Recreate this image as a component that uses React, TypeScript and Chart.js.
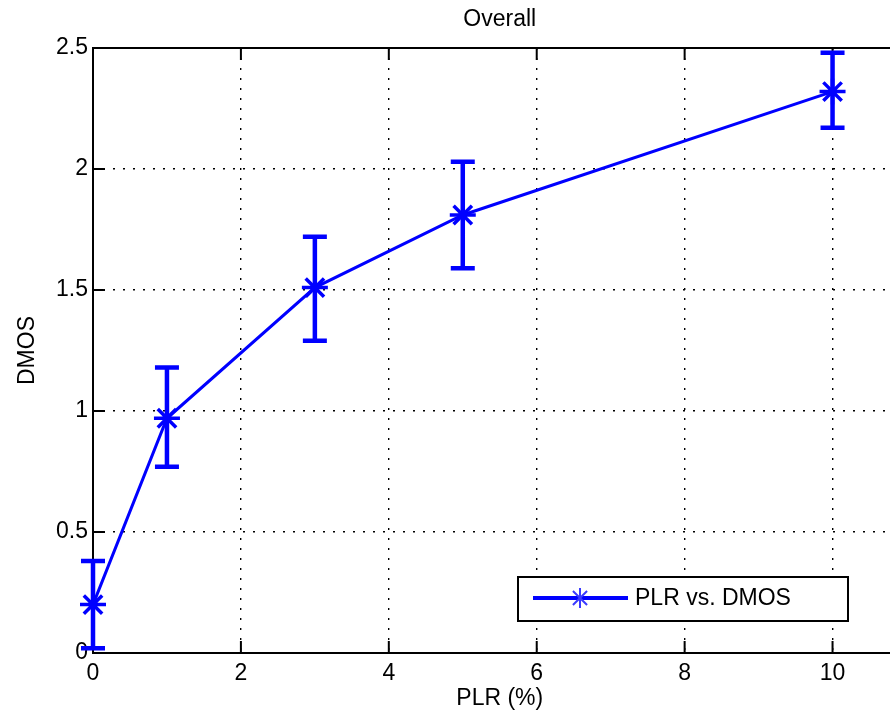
import React, { useEffect, useRef } from 'react';
import { Chart, registerables } from 'chart.js';

Chart.register(...registerables);

const plr = [0, 1, 3, 5, 10];
const dmos = [0.2, 0.97, 1.51, 1.81, 2.32];
const errLow = [0.02, 0.77, 1.29, 1.59, 2.17];
const errHigh = [0.38, 1.18, 1.72, 2.03, 2.48];
const xTicks = [0, 2, 4, 6, 8, 10];
const yTicks = [0, 0.5, 1, 1.5, 2, 2.5];
const chartTitle = 'Overall';
const xLabel = 'PLR (%)';
const yLabel = 'DMOS';
const seriesLabel = 'PLR vs. DMOS';

const BLUE = '#0000ff';
const FAMILY = '"Liberation Sans", Arial, Helvetica, sans-serif';
const FS = 23;

const matlabPlugin = {
  id: 'matlabStyle',
  beforeDatasetsDraw(chart: any) {
    const { ctx, chartArea: a, scales } = chart;
    const x = scales.x;
    const y = scales.y;
    ctx.save();
    ctx.strokeStyle = '#000';
    ctx.lineWidth = 2;
    ctx.strokeRect(a.left, a.top, a.right - a.left, a.bottom - a.top);
    const tl = 12;
    ctx.lineWidth = 2;
    ctx.beginPath();
    xTicks.forEach((v) => {
      const px = x.getPixelForValue(v);
      ctx.moveTo(px, a.bottom);
      ctx.lineTo(px, a.bottom - tl);
      ctx.moveTo(px, a.top);
      ctx.lineTo(px, a.top + tl);
    });
    yTicks.forEach((v) => {
      const py = y.getPixelForValue(v);
      ctx.moveTo(a.left, py);
      ctx.lineTo(a.left + tl, py);
      ctx.moveTo(a.right, py);
      ctx.lineTo(a.right - tl, py);
    });
    ctx.stroke();
    ctx.strokeStyle = BLUE;
    ctx.lineWidth = 4.5;
    ctx.beginPath();
    plr.forEach((v, i) => {
      const px = x.getPixelForValue(v);
      const lo = y.getPixelForValue(errLow[i]);
      const hi = y.getPixelForValue(errHigh[i]);
      ctx.moveTo(px, lo);
      ctx.lineTo(px, hi);
      ctx.moveTo(px - 12, lo);
      ctx.lineTo(px + 12, lo);
      ctx.moveTo(px - 12, hi);
      ctx.lineTo(px + 12, hi);
    });
    ctx.stroke();
    ctx.restore();
  },
  afterDraw(chart: any) {
    const { ctx, chartArea: a } = chart;
    ctx.save();
    const bx = a.left + 425;
    const by = a.bottom - 76;
    const bw = 330;
    const bh = 44;
    ctx.fillStyle = '#fff';
    ctx.fillRect(bx, by, bw, bh);
    ctx.strokeStyle = '#000';
    ctx.lineWidth = 2;
    ctx.strokeRect(bx, by, bw, bh);
    const cy = by + 21;
    ctx.strokeStyle = BLUE;
    ctx.lineWidth = 4;
    ctx.beginPath();
    ctx.moveTo(bx + 15, cy);
    ctx.lineTo(bx + 110, cy);
    ctx.stroke();
    const sx = bx + 62;
    const r = 10;
    ctx.lineWidth = 2;
    ctx.strokeStyle = '#3a3aff';
    ctx.beginPath();
    ctx.moveTo(sx, cy - r);
    ctx.lineTo(sx, cy + r);
    const d = r * 0.7071;
    ctx.moveTo(sx - d, cy - d);
    ctx.lineTo(sx + d, cy + d);
    ctx.moveTo(sx - d, cy + d);
    ctx.lineTo(sx + d, cy - d);
    ctx.stroke();
    ctx.fillStyle = '#000';
    ctx.font = `${FS}px ${FAMILY}`;
    ctx.textAlign = 'left';
    ctx.textBaseline = 'middle';
    ctx.fillText(seriesLabel, bx + 117, cy + 1);
    ctx.restore();
  },
};

export default function App() {
  const ref = useRef<HTMLCanvasElement | null>(null);

  useEffect(() => {
    if (!ref.current) return;
    Chart.defaults.font.family = FAMILY;
    const chart = new Chart(ref.current, {
      type: 'line',
      data: {
        datasets: [
          {
            label: seriesLabel,
            data: plr.map((v, i) => ({ x: v, y: dmos[i] })),
            borderColor: BLUE,
            borderWidth: 3,
            backgroundColor: BLUE,
            pointStyle: 'star',
            pointRadius: 13,
            pointBorderWidth: 3.5,
            pointBorderColor: BLUE,
            pointBackgroundColor: BLUE,
            tension: 0,
            fill: false,
            clip: false,
          } as any,
        ],
      },
      options: {
        animation: false,
        responsive: false,
        layout: { padding: { left: 0, right: 6, top: 0, bottom: 0 } },
        plugins: {
          legend: { display: false },
          tooltip: { enabled: false },
          title: {
            display: true,
            text: chartTitle,
            fullSize: false,
            color: '#000',
            font: { size: FS, weight: 'normal', family: FAMILY, lineHeight: 1.2 },
            padding: { top: 6, bottom: 14.4 },
          },
        },
        scales: {
          x: {
            type: 'linear',
            min: 0,
            max: 11,
            afterBuildTicks: (s: any) => {
              s.ticks = xTicks.map((v) => ({ value: v }));
            },
            afterFit: (s: any) => {
              s.height = 60;
            },
            grid: { color: '#000', lineWidth: 1.4, drawTicks: false },
            border: { display: false, dash: [2, 8] },
            ticks: {
              color: '#000',
              font: { size: FS, family: FAMILY },
              padding: 7,
              maxRotation: 0,
              autoSkip: false,
              callback: (v: any) => String(v),
            },
            title: {
              display: true,
              text: xLabel,
              color: '#000',
              font: { size: FS, family: FAMILY, lineHeight: 1.2 },
              padding: { top: 0, bottom: 0.5 },
            },
          },
          y: {
            type: 'linear',
            min: 0,
            max: 2.5,
            afterBuildTicks: (s: any) => {
              s.ticks = yTicks.map((v) => ({ value: v }));
            },
            afterFit: (s: any) => {
              s.width = 93;
            },
            grid: { color: '#000', lineWidth: 1.4, drawTicks: false },
            border: { display: false, dash: [2, 8] },
            ticks: {
              color: '#000',
              font: { size: FS, family: FAMILY },
              padding: 5,
              autoSkip: false,
              callback: (v: any) => String(v),
            },
            title: {
              display: true,
              text: yLabel,
              color: '#000',
              font: { size: FS, family: FAMILY, lineHeight: 1.2 },
              padding: { top: 14, bottom: 0 },
            },
          },
        },
      },
      plugins: [matlabPlugin],
    });
    return () => chart.destroy();
  }, []);

  return (
    <div
      style={{
        position: 'fixed',
        left: 0,
        top: 0,
        width: 890,
        height: 713,
        overflow: 'hidden',
        background: '#fff',
      }}
    >
      <canvas ref={ref} width={923} height={713} style={{ display: 'block' }} />
    </div>
  );
}
